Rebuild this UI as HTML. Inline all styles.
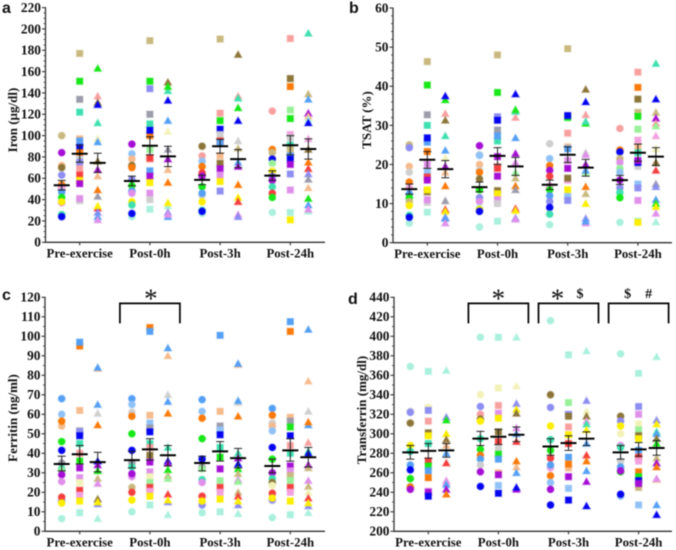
<!DOCTYPE html>
<html lang="en">
<head>
<meta charset="utf-8">
<title>Iron markers across exercise time points</title>
<style>
html,body{margin:0;padding:0;background:#fff;}
#figure{display:block;width:676px;height:550px;filter:blur(0.4px);}
text{font-family:"Liberation Serif",serif;font-weight:bold;fill:#111;}
.panel-letter{font-family:"Liberation Sans",sans-serif;font-size:16px;}
</style>
</head>
<body>
<svg id="figure" xmlns="http://www.w3.org/2000/svg" width="676" height="550" viewBox="0 0 676 550"></svg>
<script>
// Subject identifiers: each subject keeps one identity across all panels.
const categories = ['Pre-exercise', 'Post-0h', 'Post-3h', 'Post-24h'];
const markerKinds = ['circle', 'square', 'triangle'];

const ironTicks = [0,20,40,60,80,100,120,140,160,180,200,220];
const tsatTicks = [0,10,20,30,40,50,60];
const ferritinTicks = [0,10,20,30,40,50,60,70,80,90,100,110,120];
const transferrinTicks = [200,220,240,260,280,300,320,340,360,380,400,420,440];

// ---------- Iron ----------
const ironPreC = [[100,'ta'],[84,'pu'],[72,'pe'],[70,'ol'],[63,'pw'],[54,'or'],[52,'sa'],[50,'pk'],[47,'st'],[42,'gn'],[37,'pl'],[38,'ye'],[25,'mi'],[26,'aq'],[24,'bl']];
const ironPreS = [[177,'ta'],[151,'gn'],[134,'gy'],[122,'aq'],[97,'pe'],[95,'st'],[89,'bl'],[84,'or'],[78,'lg'],[75,'pw'],[69,'sa'],[63,'re'],[58,'ye'],[55,'pu'],[39,'lg'],[41,'pl']];
const ironPreT = [[163,'gn'],[137,'sa'],[131,'ol'],[129,'bl'],[112,'aq'],[97,'cr'],[94,'st'],[76,'ol'],[68,'pu'],[62,'pe'],[49,'or'],[43,'gy'],[32,'re'],[34,'ye'],[28,'pw'],[24,'st'],[21,'pl']];
const ironP0C = [[92,'pu'],[83,'lb'],[78,'pe'],[72,'ol'],[70,'or'],[59,'pw'],[53,'gn'],[48,'st'],[46,'pl'],[38,'ye'],[35,'aq'],[24,'mi'],[27,'bl']];
const ironP0S = [[189,'ta'],[151,'gn'],[144,'pw'],[120,'gy'],[111,'aq'],[100,'or'],[105,'bl'],[87,'lt'],[78,'sa'],[79,'re'],[67,'st'],[62,'pu'],[56,'ye'],[46,'pl'],[40,'lg'],[31,'mi']];
const ironP0T = [[150,'ol'],[142,'aq'],[146,'gn'],[133,'bl'],[114,'st'],[104,'cr'],[87,'gy'],[78,'pu'],[68,'pe'],[56,'or'],[34,'mi'],[37,'ye'],[24,'st'],[28,'pw'],[26,'pl']];
const ironP3C = [[90,'ol'],[81,'sa'],[76,'lb'],[71,'or'],[65,'re'],[62,'pu'],[52,'gn'],[44,'lg'],[46,'st'],[38,'ye'],[27,'mi'],[30,'aq'],[29,'bl']];
const ironP3S = [[190.5,'ta'],[121,'sa'],[114,'gn'],[106,'bl'],[101,'lg'],[95,'re'],[93,'st'],[81,'pe'],[74,'ol'],[69,'pu'],[63,'pl'],[57,'ye'],[48,'pw']];
const ironP3T = [[176,'ol'],[137,'sa'],[135,'aq'],[126,'gn'],[114,'bl'],[95,'lg'],[88,'ta'],[75,'st'],[71,'pu'],[54,'or'],[42,'ye'],[38,'re'],[26,'pl'],[24,'pw']];
const ironP24C = [[123,'sa'],[87,'or'],[84,'ta'],[78,'bl'],[74,'lt'],[68,'cr'],[66,'ye'],[62,'pw'],[58,'pu'],[52,'aq'],[46,'re'],[42,'gn'],[28,'mi']];
const ironP24S = [[191,'sa'],[153.5,'ol'],[146,'or'],[124,'lt'],[116,'gn'],[101,'pk'],[98,'lg'],[91,'aq'],[87,'ta'],[81,'st'],[78,'bl'],[73,'pu'],[64,'pw'],[49,'pl'],[28,'mi'],[21,'ye']];
const ironP24T = [[196,'aq'],[139,'ta'],[134,'st'],[121,'pu'],[118,'pe'],[115,'mi'],[112,'bl'],[97,'pk'],[87,'ol'],[75,'or'],[69,'re'],[64,'pw'],[59,'gy'],[51,'pe'],[41,'gn'],[35,'st'],[29,'mi'],[31,'pl']];
const ironMeans = [53.5,83,74.5, 57.5,90.5,80.5, 58.5,90,78, 62.5,91,87.5];
const ironHigh = [58,91,83.5, 62,99,90, 63,96.5,87, 67,100,97];
const ironLow = [49,75,65.5, 53,82,71, 54,83.5,70, 58,82,78];

// ---------- TSAT ----------
const tsatPreC = [[25,'ta'],[24.3,'pw'],[19.5,'pe'],[18,'lg'],[15.5,'or'],[14,'pk'],[12.5,'st'],[11.5,'gn'],[10.5,'ta'],[9.5,'ye'],[7,'aq'],[5,'mi'],[6.5,'bl']];
const tsatPreS = [[46.3,'ta'],[40.3,'gn'],[32.7,'gy'],[30,'aq'],[25.7,'st'],[26.8,'bl'],[23.3,'or'],[20,'pl'],[18,'lb'],[16.8,'re'],[16,'pu'],[13,'ol'],[13.5,'ye'],[10.3,'lg'],[11,'pl'],[7.8,'mi']];
const tsatPreT = [[36.5,'gn'],[37.5,'bl'],[33,'sa'],[31.3,'ol'],[27.3,'aq'],[23.6,'st'],[21.7,'cr'],[18,'pe'],[19.5,'pu'],[14.5,'or'],[10.7,'gy'],[8.5,'re'],[8,'ye'],[6.5,'pw'],[6.2,'st'],[5,'pl']];
const tsatP0C = [[24.8,'pu'],[22.5,'lg'],[22.3,'lb'],[20,'pe'],[18.5,'lg'],[18,'or'],[16.3,'ol'],[13.5,'gn'],[11.5,'pw'],[10.5,'pl'],[8.8,'mi'],[8.5,'ye'],[8,'bl'],[4,'mi']];
const tsatP0S = [[48,'ta'],[38.4,'gn'],[32.2,'pw'],[31.3,'bl'],[28.8,'gy'],[26,'aq'],[27.3,'st'],[22,'pu'],[19.5,'sa'],[19,'re'],[17,'pu'],[13.3,'ol'],[12.5,'ye'],[11,'pl'],[10,'lg'],[5.5,'mi']];
const tsatP0T = [[38,'bl'],[33.5,'aq'],[34,'gn'],[32,'sa'],[26.8,'st'],[22.8,'pu'],[20.5,'pl'],[18,'lt'],[16.5,'ta'],[14.5,'or'],[13.5,'gy'],[8.7,'re'],[8.2,'ye'],[6.3,'pw'],[6,'pl']];
const tsatP3C = [[25.3,'lg'],[21.5,'lb'],[19.7,'or'],[18.5,'pu'],[17,'re'],[14.5,'pk'],[13.5,'gn'],[12,'st'],[10.5,'pw'],[9,'bl'],[7.3,'aq'],[4.6,'mi']];
const tsatP3S = [[49.6,'ta'],[32,'gn'],[32.5,'bl'],[28,'sa'],[24.5,'pe'],[24,'st'],[21,'pl'],[19,'pu'],[16,'pk'],[16.5,'ol'],[13.5,'ye'],[11.8,'lb'],[10.8,'pw']];
const tsatP3T = [[39.2,'ol'],[36,'bl'],[32.7,'sa'],[30.5,'gn'],[31,'aq'],[23,'lg'],[22.5,'pl'],[20,'pu'],[18,'lt'],[18.5,'st'],[14.3,'or'],[12.5,'ta'],[10,'ye'],[6.2,'pw'],[5,'pl'],[5.5,'st']];
const tsatP24C = [[29.2,'sa'],[23.7,'or'],[23.2,'bl'],[21.5,'ta'],[20.5,'pl'],[19,'lt'],[18,'lb'],[16,'pu'],[14,'pw'],[12.8,'aq'],[11.5,'gn'],[5.2,'mi']];
const tsatP24S = [[43.6,'sa'],[39.7,'or'],[36.7,'ol'],[33.3,'ta'],[32.3,'gn'],[29,'lt'],[26.2,'pk'],[24.5,'pe'],[23,'aq'],[19.5,'lg'],[20.5,'bl'],[21,'pu'],[15,'lb'],[14,'pw'],[10.8,'pl'],[5.5,'mi'],[5.2,'ye']];
const tsatP24T = [[45.8,'aq'],[36.7,'bl'],[33.3,'ta'],[31.8,'pu'],[30.5,'sa'],[29.8,'lt'],[27.3,'pk'],[24,'cr'],[20.5,'ol'],[18.5,'re'],[15,'gy'],[14.3,'pw'],[11,'st'],[10,'gn'],[9.2,'ye'],[7.5,'pl'],[5.3,'mi']];
const tsatMeans = [13.7,21.2,18.8, 14.2,22.2,19.5, 14.8,22.5,19.2, 16,23,22];
const tsatHigh = [15,23.3,21, 15.5,24.3,21.8, 16,24.5,21.3, 17.2,25.2,24.3];
const tsatLow = [12.4,19,16.6, 13,20,17.2, 13.6,20.5,17, 14.9,20.8,19.7];

// ---------- Ferritin ----------
const ferritinPreC = [[68,'st'],[60,'lb'],[54,'pe'],[56.5,'or'],[46,'gn'],[41.5,'bl'],[35,'gy'],[32,'aq'],[31,'lt'],[29,'pu'],[25.5,'pl'],[15.5,'pw'],[17.5,'re'],[14.5,'ye'],[6.5,'mi']];
const ferritinPreS = [[95,'or'],[97,'st'],[62,'pe'],[51.5,'gy'],[51,'pw'],[49,'bl'],[45,'aq'],[40,'sa'],[36,'gn'],[32.5,'pu'],[27.5,'pl'],[25,'cr'],[21,'re'],[18.5,'pk'],[15.5,'ye'],[9.5,'mi']];
const ferritinPreT = [[83.5,'pe'],[84,'st'],[65,'st'],[60.5,'lg'],[54.5,'or'],[36,'bl'],[34,'pu'],[31,'gn'],[27,'ta'],[24.5,'pl'],[16.5,'ol'],[14,'pw'],[15,'ye'],[6.5,'mi']];
const ferritinP0C = [[68,'st'],[65,'lb'],[61,'lg'],[59,'or'],[50,'gn'],[41.5,'bl'],[35,'gy'],[33,'aq'],[28,'pl'],[29.5,'pu'],[22.5,'ta'],[20,'re'],[16,'ye'],[10,'mi']];
const ferritinP0S = [[104.5,'or'],[102.5,'st'],[59.5,'pe'],[55.5,'lb'],[53,'gy'],[51,'bl'],[45,'aq'],[43,'sa'],[39,'ol'],[35.5,'pu'],[30.5,'pl'],[28,'cr'],[25,'lt'],[22.5,'re'],[20.5,'pk'],[18,'ye'],[13.5,'mi']];
const ferritinP0T = [[94,'st'],[90,'pe'],[70,'lg'],[66.5,'st'],[60.5,'or'],[43,'aq'],[36,'bl'],[35,'pu'],[31.5,'gn'],[28.5,'ta'],[27,'lt'],[19,'re'],[15,'pw'],[16,'ye'],[8.5,'mi']];
const ferritinP3C = [[67.5,'st'],[61.5,'lb'],[58,'or'],[47.5,'gn'],[37,'bl'],[33,'gy'],[32,'lt'],[26.5,'aq'],[25,'pl'],[18,'re'],[13.5,'pw'],[15.5,'ye'],[9.5,'mi']];
const ferritinP3S = [[100.5,'st'],[61.5,'pe'],[54,'gy'],[52,'lb'],[49.5,'bl'],[43,'aq'],[38,'gn'],[32,'pu'],[26,'lt'],[22.5,'re'],[20,'pk'],[16.5,'ye'],[10,'mi']];
const ferritinP3T = [[85.5,'pe'],[86,'st'],[66,'lg'],[67,'st'],[59,'or'],[40,'aq'],[37.5,'pu'],[34.5,'bl'],[32,'gn'],[29.5,'ta'],[26.5,'pl'],[25.5,'lt'],[20,'ta'],[18,'re'],[13.5,'pw'],[15.5,'ye'],[9,'mi']];
const ferritinP24C = [[63,'st'],[59.5,'or'],[55.5,'lg'],[54,'pe'],[51.5,'lb'],[43,'bl'],[37,'gn'],[30,'pu'],[27,'aq'],[25,'ol'],[23.5,'cr'],[19.5,'re'],[16,'pw'],[17,'ye'],[7,'mi']];
const ferritinP24S = [[107.5,'st'],[102.5,'or'],[58.5,'pe'],[56.5,'gy'],[53.5,'gn'],[49,'bl'],[44,'sa'],[40,'aq'],[33.5,'pu'],[31,'pl'],[28.5,'ta'],[26,'lt'],[22.5,'re'],[20,'pk'],[15.5,'ye'],[8.5,'mi']];
const ferritinP24T = [[103.5,'st'],[77,'pe'],[61.5,'lg'],[54.5,'st'],[56,'or'],[45.5,'sa'],[41,'aq'],[40,'bl'],[34,'pu'],[32.5,'ta'],[26,'pl'],[23,'ta'],[20,'cr'],[17,'re'],[13,'pw'],[14.5,'ye'],[9.5,'mi']];
const ferritinMeans = [34.5,39.5,35.5, 36.5,42,39, 35,41,37.5, 33.5,41.5,38];
const ferritinHigh = [38.5,44,40.5, 41,47.5,44, 38.5,46,42.5, 37,47.5,43];
const ferritinLow = [31,34.5,30.5, 32.5,36.5,33.5, 31,36,32.5, 30,36,33];

// ---------- Transferrin ----------
const transferrinPreC = [[369,'mi'],[323,'lg'],[322,'pw'],[311,'ol'],[288,'ye'],[282,'aq'],[268,'st'],[263,'bl'],[254,'gn'],[246,'ta'],[245,'or'],[243,'pu']];
const transferrinPreS = [[364,'mi'],[327,'cr'],[324,'pw'],[313,'sa'],[301,'ol'],[298,'ye'],[290,'aq'],[272,'re'],[267,'gn'],[262,'st'],[255,'or'],[241,'pl'],[240,'pu'],[236,'bl']];
const transferrinPreT = [[365,'mi'],[317,'pw'],[314,'gn'],[300,'ye'],[294,'ol'],[288,'pe'],[280,'st'],[270,'re'],[252,'pl'],[250,'pk'],[248,'st'],[243,'pu'],[238,'or']];
const transferrinP0C = [[399,'mi'],[340,'cr'],[328,'pw'],[320,'sa'],[315,'ol'],[313,'ye'],[295,'aq'],[284,'gn'],[278,'or'],[274,'st'],[268,'lg'],[261,'pu'],[246,'bl']];
const transferrinP0S = [[399,'mi'],[347,'cr'],[329,'sa'],[321,'pl'],[316,'ye'],[302,'ol'],[292,'re'],[285,'lg'],[279,'gn'],[274,'st'],[260,'pe'],[258,'pu'],[247,'lb'],[239,'bl']];
const transferrinP0T = [[399,'mi'],[349,'cr'],[331,'pw'],[325,'ye'],[321,'ol'],[306,'pl'],[300,'st'],[292,'re'],[266,'pe'],[272,'or'],[260,'st'],[243,'pu'],[245,'bl']];
const transferrinP3C = [[416,'mi'],[340,'ol'],[327,'pw'],[308,'ye'],[294,'aq'],[283,'gn'],[275,'re'],[265,'pk'],[268,'st'],[257,'or'],[250,'lb'],[243,'pu'],[227,'bl']];
const transferrinP3S = [[381,'mi'],[332,'lt'],[320,'pw'],[318,'ol'],[307,'sa'],[299,'ye'],[290,'re'],[276,'st'],[265,'pe'],[269,'or'],[256,'pu'],[244,'lb'],[232,'bl']];
const transferrinP3T = [[385,'mi'],[334,'pw'],[323,'cr'],[318,'ol'],[313,'pk'],[310,'aq'],[304,'ye'],[290,'st'],[278,'re'],[272,'or'],[262,'st'],[251,'pu'],[226,'bl']];
const transferrinP24C = [[382,'mi'],[318,'ol'],[313,'pw'],[308,'ye'],[300,'cr'],[288,'pl'],[286,'aq'],[272,'lg'],[266,'st'],[261,'gn'],[262,'pu'],[236,'lb'],[238,'bl']];
const transferrinP24S = [[362,'mi'],[328,'pw'],[320,'pl'],[310,'cr'],[304,'lt'],[298,'ol'],[295,'ye'],[283,'st'],[276,'re'],[272,'pk'],[261,'or'],[256,'gn'],[252,'bl'],[245,'ta'],[249,'pu'],[227,'lb']];
const transferrinP24T = [[379,'mi'],[314,'pw'],[310,'ye'],[302,'aq'],[300,'st'],[295,'ol'],[290,'gn'],[275,'ta'],[270,'pu'],[266,'or'],[253,'pe'],[254,'pl'],[227,'st'],[217,'bl']];
const transferrinMeans = [281,282.5,283, 295,297,299, 287,290.5,295, 281,284,285.5];
const transferrinHigh = [288,290,290, 302.5,304.5,307, 295,298,302, 288,291,293];
const transferrinLow = [274,275,276, 288,289,292, 278,283,288, 274,277,278];

const subjectColors = {
  ta:'#c9b97e', gn:'#17e817', gy:'#9c9cab', aq:'#3fe0b0', st:'#55a0f5', bl:'#0505f0', or:'#fa7a0a',
  re:'#f53f3f', pu:'#a50fd5', ye:'#fbee00', pl:'#e090ea', lg:'#cfcfcf', mi:'#aaf0dc', ol:'#8c7638',
  pe:'#f6bb8c', sa:'#f8a0a0', pw:'#8d8df2', lt:'#98f098', cr:'#f2f2b8', lb:'#90c2f7', pk:'#f2a0e0'
};

const NS = 'http://www.w3.org/2000/svg';
const root = document.getElementById('figure');

function make(tag, attrs, parent) {
  const el = document.createElementNS(NS, tag);
  for (const k in attrs) el.setAttribute(k, attrs[k]);
  parent.appendChild(el);
  return el;
}

function drawLine(parent, x1, y1, x2, y2, w, color) {
  return make('line', {x1:x1, y1:y1, x2:x2, y2:y2, stroke:color, 'stroke-width':w}, parent);
}

function drawMarker(parent, kind, x, y, color) {
  const halo = {fill:color, stroke:color, 'stroke-opacity':0.35, 'stroke-width':1.3};
  let el;
  if (kind === 'circle') {
    el = make('circle', Object.assign({cx:x, cy:y, r:3.5}, halo), parent);
  } else if (kind === 'square') {
    el = make('rect', Object.assign({x:x-3.2, y:y-3.2, width:6.4, height:6.4}, halo), parent);
  } else {
    const pts = (x-3.8)+','+(y+3)+' '+(x+3.8)+','+(y+3)+' '+x+','+(y-3.7);
    el = make('polygon', Object.assign({points:pts}, halo), parent);
  }
  return el;
}

function drawPanel(cfg) {
  const g = make('g', {}, root);
  
  

  const yScale = v => cfg.y0 - (v - cfg.ticks[0]) / (cfg.ticks[cfg.ticks.length-1] - cfg.ticks[0]) * (cfg.y0 - cfg.yTop);
  const xScale = i => cfg.xFirst + i * cfg.xStep;

  // panel letter
  const letter = make('text', {x:cfg.letterX, y:cfg.letterY, class:'panel-letter'}, g);
  letter.textContent = cfg.letter;
  
  

  // markers
  const marks = make('g', {}, g);
  
  
  cfg.series.forEach((group, gi) => {
    group.forEach((points, ki) => {
      const kind = markerKinds[ki];
      const x = xScale(gi) + (ki - 1) * 18;
      points.forEach(p => {
        const m = drawMarker(marks, kind, x, yScale(p[0]), subjectColors[p[1]]);
        
        
      });
    });
  });

  // mean and error bars
  const summary = make('g', {}, g);
  
  
  cfg.means.forEach((mean, i) => {
    const gi = Math.floor(i / 3);
    const ki = i % 3;
    const x = xScale(gi) + (ki - 1) * 18;
    const yHi = yScale(cfg.high[i]);
    const yLo = yScale(cfg.low[i]);
    const yM = yScale(mean);
    const bar = drawLine(summary, x, yHi, x, yLo, 1, '#222');
    
    
    const capT = drawLine(summary, x-4, yHi, x+4, yHi, 1, '#222');
    
    
    const capB = drawLine(summary, x-4, yLo, x+4, yLo, 1, '#222');
    
    
    const ml = drawLine(summary, x-8, yM, x+8, yM, 2, '#000');
    
    
  });

  // axes
  const axisColor = '#333';
  const yAxis = drawLine(g, cfg.xAxis, cfg.yTop-0.5, cfg.xAxis, cfg.y0+0.6, 1.3, axisColor);
  
  
  const xAxis = drawLine(g, cfg.xAxis, cfg.y0, cfg.xEnd, cfg.y0, 1.3, axisColor);
  
  

  cfg.ticks.forEach((t, i) => {
    const y = yScale(t);
    const tick = drawLine(g, cfg.xAxis-3.5, y, cfg.xAxis, y, 1.1, axisColor);
    
    
    const lab = make('text', {x:cfg.xAxis-4.5, y:y+4.4, 'text-anchor':'end', 'font-size':13.4}, g);
    lab.textContent = String(t);
    
    
    if (i < cfg.ticks.length - 1) {
      const next = yScale(cfg.ticks[i+1]);
      for (let k = 1; k <= cfg.minors; k++) {
        const my = y + (next - y) * k / (cfg.minors + 1);
        const minor = drawLine(g, cfg.xAxis-2, my, cfg.xAxis, my, 0.8, axisColor);
        
        
      }
    }
  });

  categories.forEach((c, i) => {
    const x = xScale(i);
    const tick = drawLine(g, x, cfg.y0, x, cfg.y0+3, 1.1, axisColor);
    
    
    const lab = make('text', {x:x, y:cfg.y0+15.3, 'text-anchor':'middle', 'font-size':12.8}, g);
    lab.textContent = c;
    
    
  });

  const title = make('text', {transform:'translate('+cfg.titleX+','+cfg.titleY+') rotate(-90)', 'text-anchor':'middle', 'font-size':13}, g);
  title.textContent = cfg.title;
  
  

  // significance brackets
  (cfg.brackets || []).forEach(b => {
    const cx = xScale(b.group);
    const top = cfg.bracketTop;
    const bottom = top + 20;
    const path = make('polyline', {points:(cx-30)+','+bottom+' '+(cx-30)+','+top+' '+(cx+30)+','+top+' '+(cx+30)+','+bottom, fill:'none', stroke:'#000', 'stroke-width':1.7}, g);
    
    
    b.marks.forEach(m => {
      const star = m.sym === '*';
      const t = make('text', {x:cx + m.dx, y: star ? top+4 : top-5.5, 'text-anchor':'middle', 'font-size': star ? 27 : 14, style: star ? 'font-weight:normal' : ''}, g);
      t.textContent = m.sym;
      
      
    });
  });
}

drawPanel({
  name:'iron', letter:'a', letterX:2, letterY:13, title:'Iron (µg/dl)', titleX:17, titleY:120,
  ticks:ironTicks, minors:3, xAxis:45.5, xEnd:325, y0:242.3, yTop:7.6, xFirst:79.7, xStep:70.2,
  series:[[ironPreC,ironPreS,ironPreT],[ironP0C,ironP0S,ironP0T],[ironP3C,ironP3S,ironP3T],[ironP24C,ironP24S,ironP24T]],
  means:ironMeans, high:ironHigh, low:ironLow
});
drawPanel({
  name:'tsat', letter:'b', letterX:349, letterY:13, title:'TSAT (%)', titleX:371, titleY:120,
  ticks:tsatTicks, minors:4, xAxis:393, xEnd:672, y0:242.7, yTop:8, xFirst:427.3, xStep:70.2,
  series:[[tsatPreC,tsatPreS,tsatPreT],[tsatP0C,tsatP0S,tsatP0T],[tsatP3C,tsatP3S,tsatP3T],[tsatP24C,tsatP24S,tsatP24T]],
  means:tsatMeans, high:tsatHigh, low:tsatLow
});
drawPanel({
  name:'ferritin', letter:'c', letterX:2, letterY:300, title:'Ferritin (ng/ml)', titleX:17, titleY:418,
  ticks:ferritinTicks, minors:1, xAxis:45, xEnd:325, y0:531.3, yTop:297.3, xFirst:79.7, xStep:70.2,
  series:[[ferritinPreC,ferritinPreS,ferritinPreT],[ferritinP0C,ferritinP0S,ferritinP0T],[ferritinP3C,ferritinP3S,ferritinP3T],[ferritinP24C,ferritinP24S,ferritinP24T]],
  means:ferritinMeans, high:ferritinHigh, low:ferritinLow,
  bracketTop:303.4,
  brackets:[{group:1, marks:[{sym:'*', dx:1}]}]
});
drawPanel({
  name:'transferrin', letter:'d', letterX:348, letterY:304, title:'Transferrin (mg/dl)', titleX:366, titleY:410,
  ticks:transferrinTicks, minors:1, xAxis:394, xEnd:672, y0:531.3, yTop:297.3, xFirst:428.3, xStep:70.1,
  series:[[transferrinPreC,transferrinPreS,transferrinPreT],[transferrinP0C,transferrinP0S,transferrinP0T],[transferrinP3C,transferrinP3S,transferrinP3T],[transferrinP24C,transferrinP24S,transferrinP24T]],
  means:transferrinMeans, high:transferrinHigh, low:transferrinLow,
  bracketTop:303.4,
  brackets:[
    {group:1, marks:[{sym:'*', dx:0}]},
    {group:2, marks:[{sym:'*', dx:-11},{sym:'$', dx:11.5}]},
    {group:3, marks:[{sym:'$', dx:-11},{sym:'#', dx:10}]}
  ]
});
</script>
</body>
</html>
